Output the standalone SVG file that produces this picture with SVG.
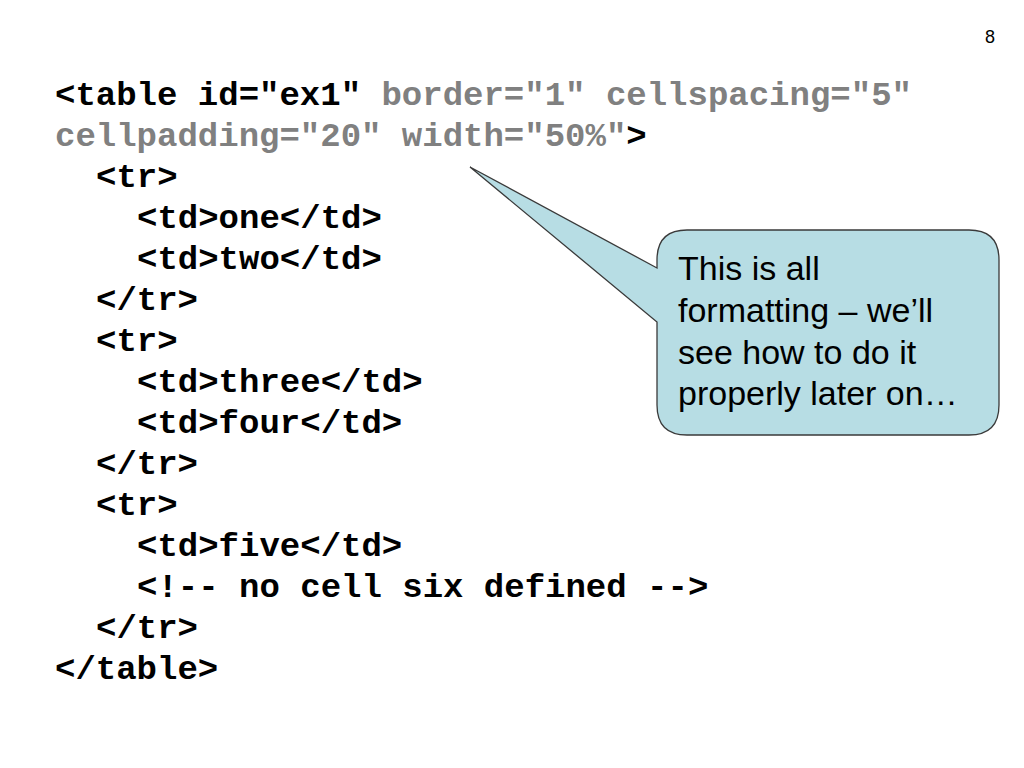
<svg xmlns="http://www.w3.org/2000/svg" width="1024" height="768" viewBox="0 0 1024 768">
<style>
.code{font-family:"Liberation Mono","Courier New",monospace;font-weight:bold;font-size:34px;fill:#000;white-space:pre}
.g{fill:#808080}
.call{font-family:"Liberation Sans",Arial,sans-serif;font-size:34px;fill:#000}
.pg{font-family:"Liberation Sans",Arial,sans-serif;font-size:18px;fill:#000}
</style>
<rect width="1024" height="768" fill="#fff"/>
<text class="pg" x="985" y="43">8</text>
<g id="code">
<text class="code" x="55" y="105" xml:space="preserve">&lt;table id="ex1" <tspan class="g">border="1" cellspacing="5"</tspan></text>
<text class="code" x="55" y="146" xml:space="preserve"><tspan class="g">cellpadding="20" width="50%"</tspan>&gt;</text>
<text class="code" x="96" y="187">&lt;tr&gt;</text>
<text class="code" x="137" y="228">&lt;td&gt;one&lt;/td&gt;</text>
<text class="code" x="137" y="269">&lt;td&gt;two&lt;/td&gt;</text>
<text class="code" x="96" y="310">&lt;/tr&gt;</text>
<text class="code" x="96" y="351">&lt;tr&gt;</text>
<text class="code" x="137" y="392">&lt;td&gt;three&lt;/td&gt;</text>
<text class="code" x="137" y="433">&lt;td&gt;four&lt;/td&gt;</text>
<text class="code" x="96" y="474">&lt;/tr&gt;</text>
<text class="code" x="96" y="515">&lt;tr&gt;</text>
<text class="code" x="137" y="556">&lt;td&gt;five&lt;/td&gt;</text>
<text class="code" x="137" y="597">&lt;!-- no cell six defined --&gt;</text>
<text class="code" x="96" y="638">&lt;/tr&gt;</text>
<text class="code" x="55" y="679">&lt;/table&gt;</text>
</g>
<g id="callout">
<path d="M687,230 H969 Q999,230 999,260 V405 Q999,435 969,435 H687 Q657,435 657,405 V322 L470,167 L657,268 V260 Q657,230 687,230 Z" fill="#B7DDE4" stroke="#3a3a3a" stroke-width="1.3"/>
<text class="call" x="678" y="280">This is all</text>
<text class="call" x="678" y="322">formatting – we’ll</text>
<text class="call" x="678" y="364">see how to do it</text>
<text class="call" x="678" y="405">properly later on…</text>
</g>
</svg>
